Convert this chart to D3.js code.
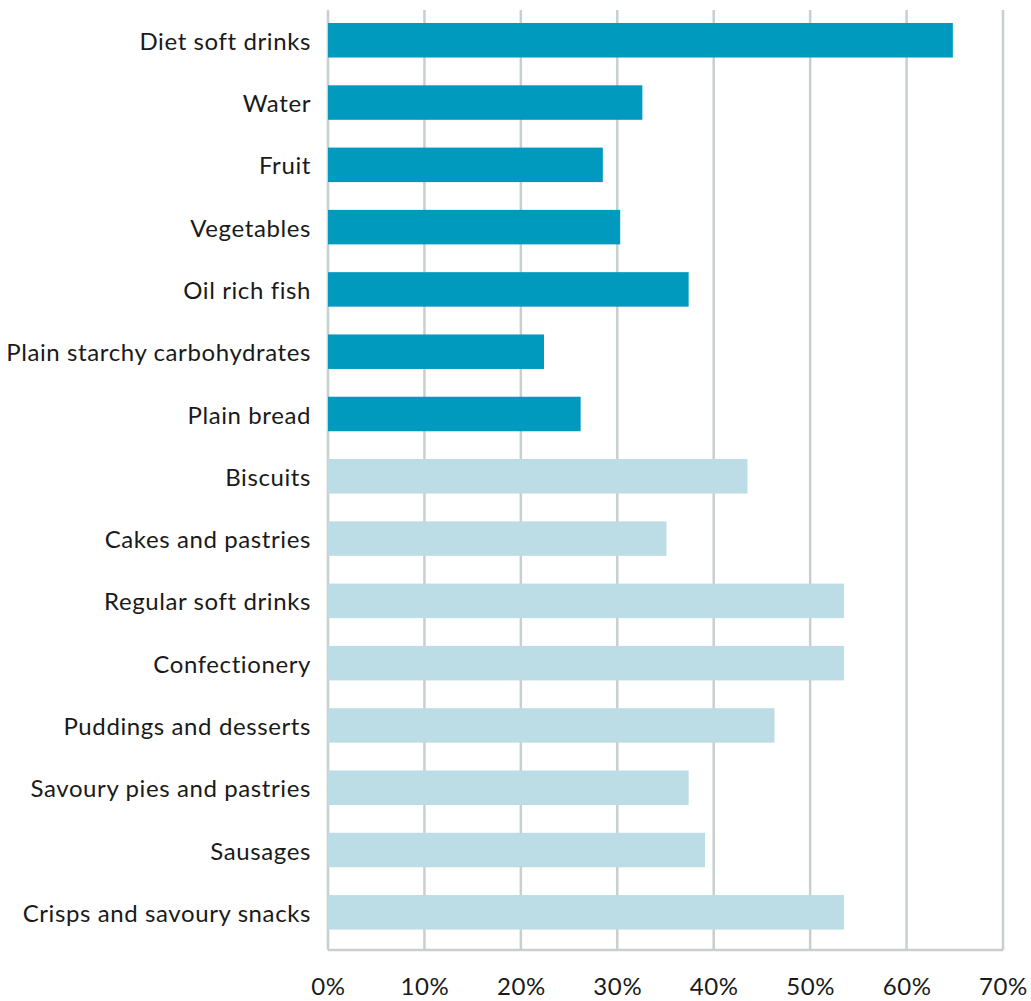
<!DOCTYPE html>
<html>
<head>
<meta charset="utf-8">
<script src="https://cdn.jsdelivr.net/npm/d3@7"></script>
<style>
  html, body { margin: 0; padding: 0; background: #fff; }
  svg { display: block; }
  text { font-family: Lato, "Noto Sans", sans-serif; fill: #1a1a1a; }
</style>
</head>
<body>
<svg id="chart" width="1031" height="1001"></svg>
<script>
// Food categories, top to bottom
const categories = [
  "Diet soft drinks", "Water", "Fruit", "Vegetables", "Oil rich fish",
  "Plain starchy carbohydrates", "Plain bread", "Biscuits", "Cakes and pastries",
  "Regular soft drinks", "Confectionery", "Puddings and desserts",
  "Savoury pies and pastries", "Sausages", "Crisps and savoury snacks"
];
// Share (%) for each category
const values = [64.8, 32.6, 28.5, 30.3, 37.4, 22.4, 26.2, 43.5, 35.1, 53.5, 53.5, 46.3, 37.4, 39.1, 53.5];
// Group: healthier options vs. less healthy options
const groups = ["healthy", "healthy", "healthy", "healthy", "healthy", "healthy", "healthy",
  "less", "less", "less", "less", "less", "less", "less", "less"];
const tickValues = [0, 10, 20, 30, 40, 50, 60, 70];

const svg = d3.select("#chart");
const margin = { top: 10, right: 28, bottom: 51, left: 328 };
const width = 1031 - margin.left - margin.right;
const height = 1001 - margin.top - margin.bottom;

const x = d3.scaleLinear().domain([0, 70]).range([0, width]);

// rows: step ~62.3px, bars ~34.5px tall, first bar 13px below the top of the grid
const step = 62.29, inner = 0.446, bandStart = 13;
const y = d3.scaleBand().domain(categories)
  .range([bandStart, bandStart + step * (categories.length - inner)])
  .paddingInner(inner).paddingOuter(0);
const color = d3.scaleOrdinal().domain(["healthy", "less"]).range(["#009abf", "#bcdde5"]);

const g = svg.append("g").attr("transform", `translate(${margin.left},${margin.top})`);

// vertical gridlines
g.selectAll("line.grid").data(tickValues).join("line")
  .attr("class", "grid")
  .attr("x1", d => x(d)).attr("x2", d => x(d))
  .attr("y1", 0).attr("y2", height)
  .attr("stroke", "#c8d0ce").attr("stroke-width", 2.5);

// baseline
g.append("line")
  .attr("x1", x(0)).attr("x2", x(70))
  .attr("y1", height).attr("y2", height)
  .attr("stroke", "#c8d0ce").attr("stroke-width", 2.5);

// bars
const data = categories.map((c, i) => ({ c, v: values[i], grp: groups[i] }));
g.selectAll("rect.bar").data(data).join("rect")
  .attr("class", "bar")
  .attr("x", x(0))
  .attr("y", d => y(d.c))
  .attr("width", d => x(d.v) - x(0))
  .attr("height", y.bandwidth())
  .attr("fill", d => color(d.grp));

const labelStyle = sel => sel
  .style("font-size", "24px")
  .style("letter-spacing", "0.6px")
  .style("font-family", "Lato, 'Noto Sans', sans-serif")
  .attr("fill", "#1a1a1a");

// x axis labels
const xAxis = d3.axisBottom(x).tickValues(tickValues).tickFormat(d => d + "%").tickSize(0).tickPadding(28);
const xa = g.append("g").attr("transform", `translate(0,${height})`).call(xAxis);
xa.select(".domain").remove();
xa.selectAll("text").call(labelStyle);

// y axis labels
const yAxis = d3.axisLeft(y).tickSize(0).tickPadding(17);
const ya = g.append("g").call(yAxis);
ya.select(".domain").remove();
ya.selectAll("text").call(labelStyle).attr("dy", "0.4em");
</script>
</body>
</html>
